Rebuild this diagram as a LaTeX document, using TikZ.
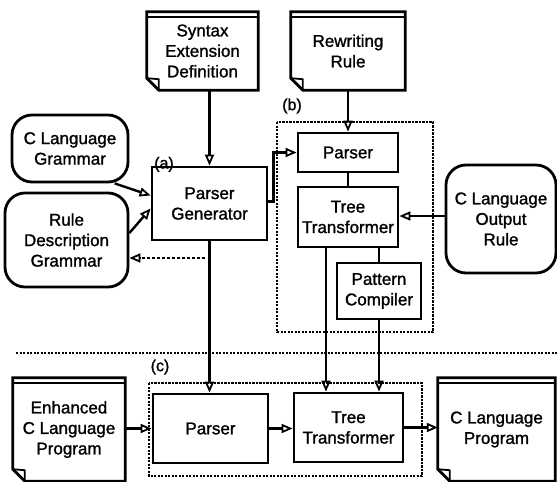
\documentclass[tikz,border=0pt]{standalone}
\usepackage{fontspec}
\setmainfont{Liberation Sans}[BoldFont=Liberation Sans, BoldFeatures={FakeBold=1.3}]
\usetikzlibrary{arrows.meta,calc}

\tikzset{
  lbl/.style={align=center, font=\fontsize{17}{20.5}\selectfont\bfseries, inner sep=0pt},
  procbox/.style={lbl, draw, line width=2.8pt, minimum width=#1},
  rbox/.style={lbl, draw, line width=2.8pt, rounded corners=20pt},
  docnode/.style={lbl},
  dotbox/.style={line width=2.3pt, dash pattern=on 2.2pt off 1.3pt},
  conn/.style={line width=2.4pt},
  arr/.style={conn, -{Triangle[open, length=11pt, width=9pt, line width=1.8pt]}},
  darr/.style={arr, line width=1.9pt, dash pattern=on 3pt off 2pt},
  tag/.style={font=\fontsize{16}{18}\selectfont\bfseries, inner sep=0pt},
}

% document symbol: thick top band and a folded lower-left corner
\newcommand\docoutline[1]{%
  \draw[line width=2.8pt, line join=miter]
    ([yshift=12pt]#1.south west) -- (#1.north west) -- (#1.north east)
    -- (#1.south east) -- ([xshift=12pt]#1.south west) -- cycle;
  \draw[line width=1.8pt] ([yshift=-5pt]#1.north west) -- ([yshift=-5pt]#1.north east);
  \draw[line width=1.8pt, line join=round] ([yshift=12pt]#1.south west)
    -- ([xshift=12pt,yshift=11pt]#1.south west) -- ([xshift=12pt]#1.south west);
}

\begin{document}
\begin{tikzpicture}[x=1pt, y=-1pt]
\useasboundingbox (0,0) rectangle (557,482);

% ---- inputs on top
\node[docnode, minimum width=111pt, minimum height=78pt] (syn) at (202.5,51) {Syntax\\Extension\\Definition};
\node[docnode, minimum width=114pt, minimum height=78pt] (rew) at (348,51) {Rewriting\\Rule};
\docoutline{syn}
\docoutline{rew}

% ---- grammars
\node[rbox, minimum width=116pt, minimum height=67pt] (clg) at (70,148.5) {C Language\\Grammar};
\node[rbox, minimum width=123pt, minimum height=94pt] (rdg) at (66.5,240) {Rule\\Description\\Grammar};

% ---- (a) parser generator
\node[procbox=115pt, minimum height=73pt] (pg) at (209.5,203.5) {Parser\\Generator};
\node[tag, anchor=south west] (ta) at (154,172) {(a)};

% ---- (b) rewriting-rule translator
\draw[dotbox] (277,122) rectangle (433,332);
\node[tag] (tb) at (292,106) {(b)};
\node[procbox=100pt, minimum height=39pt] (pb) at (348,152.5) {Parser};
\node[procbox=100pt, minimum height=60pt] (ttb) at (348,217) {Tree\\Transformer};
\node[procbox=84pt, minimum height=56pt] (pc) at (379,291) {Pattern\\Compiler};
\node[rbox, minimum width=110pt, minimum height=108pt] (colr) at (501,219) {C Language\\Output\\Rule};

% ---- separator
\draw[dotbox] (16,353) -- (557,353);

% ---- (c) translator
\draw[dotbox] (149,383) rectangle (422,476);
\node[tag] (tc) at (160,367) {(c)};
\node[procbox=115pt, minimum height=69pt] (pcc) at (210.5,428.5) {Parser};
\node[procbox=109pt, minimum height=69pt] (ttc) at (348.5,427.5) {Tree\\Transformer};
\node[docnode, minimum width=112pt, minimum height=103pt] (enh) at (69,429.5) {Enhanced\\C Language\\Program};
\node[docnode, minimum width=117pt, minimum height=103pt] (clp) at (496.5,429.5) {C Language\\Program};
\docoutline{enh}
\docoutline{clp}

% ---- connectors
\draw[arr] (syn.south -| pg.north) -- (pg.north);
\draw[arr] (rew.south) -- (pb.north);
\draw[arr] (clg.-38) -- ([yshift=8pt]pg.west);
\draw[arr] ([yshift=7pt]rdg.east) -- ([yshift=-5pt]pg.west);
\coordinate (dstart) at (205,258);
\draw[darr] (dstart) -- (dstart -| rdg.east);
\draw[arr] (pg.south) -- (pg.south |- pcc.north);
\draw[arr] ([yshift=2pt]pg.east) -- ++(5,0) |- (pb.west);
\draw[conn] (pb.south) -- (ttb.north);
\draw[conn] (pc.north |- ttb.south) -- (pc.north);
\draw[arr] ([yshift=3pt]colr.west) -- ([yshift=3pt]colr.west -| ttb.east);
\draw[arr] ([xshift=-22pt]ttb.south) -- ([xshift=-22pt]ttb.south |- ttc.north);
\draw[arr] (pc.south) -- (pc.south |- ttc.north);
\draw[arr] (pcc.west -| enh.east) -- (pcc.west);
\draw[arr] (pcc.east) -- (pcc.east -| ttc.west);
\draw[arr] (ttc.east) -- (ttc.east -| clp.west);
\end{tikzpicture}
\end{document}
